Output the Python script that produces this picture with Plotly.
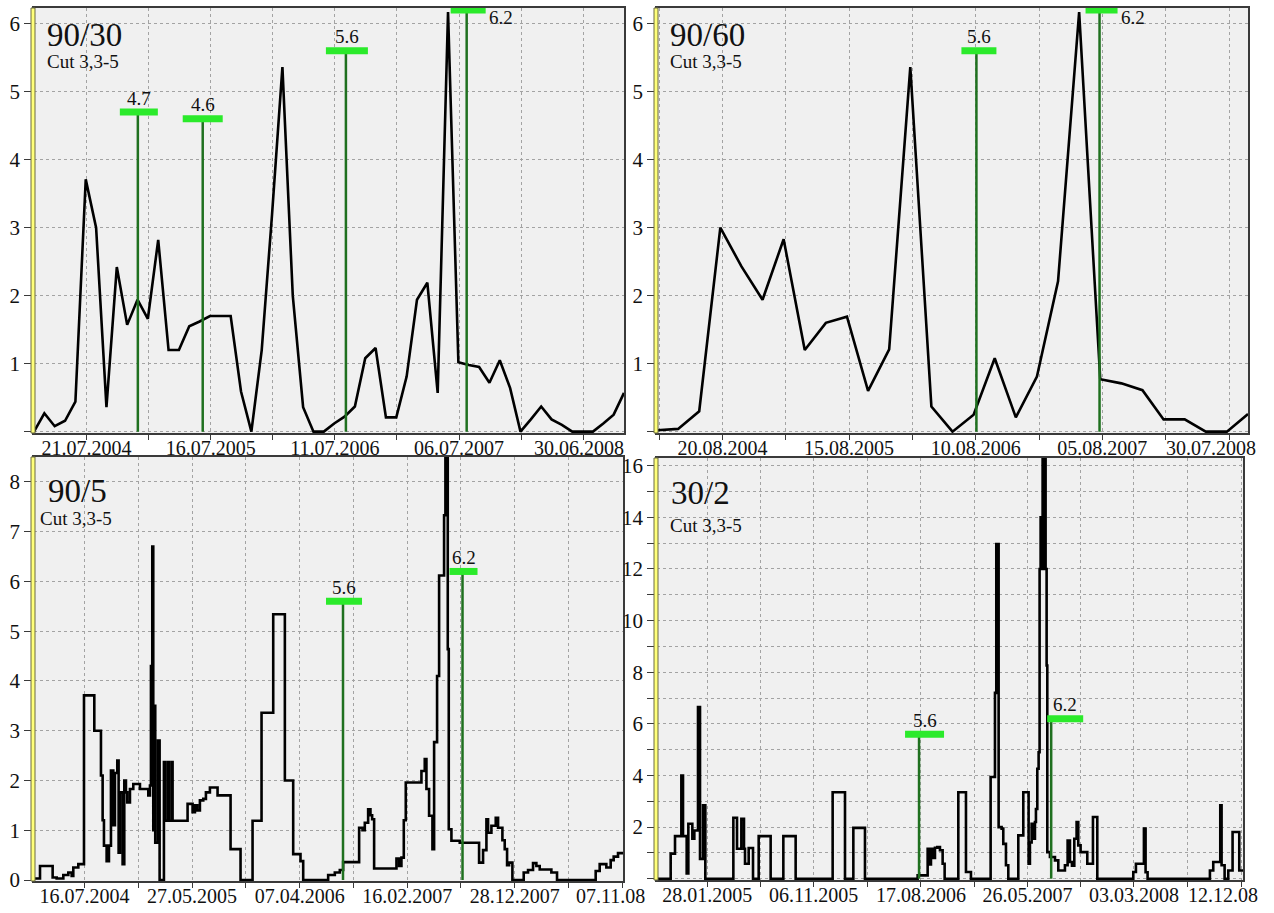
import pandas as pd
import plotly.graph_objects as go

W, H = 1274, 913

# ---------------- data ----------------
# Panel 1: 90/30 (one value every 30 days)
p1_start = "2004-02-20"
p1_step = "30D"
p1_vals = [0.0, 0.27, 0.08, 0.16, 0.44, 3.71, 3.0, 0.36, 2.42, 1.57, 1.94, 1.66, 2.82, 1.2, 1.2,
           1.55, 1.62, 1.7, 1.7, 1.7, 0.59, 0.0, 1.2, 3.2, 5.36, 2.0, 0.36, 0.0, 0.0, 0.12,
           0.22, 0.37, 1.08, 1.23, 0.21, 0.21, 0.81, 1.94, 2.19, 0.57, 6.17, 1.02, 0.98, 0.95,
           0.72, 1.05, 0.64, 0.0, 0.18, 0.37, 0.18, 0.1, 0.0, 0.0, 0.0, 0.12, 0.25, 0.57]

# Panel 2: 90/60 (one value every 60 days)
p2_start = "2004-02-16"
p2_step = "60D"
p2_vals = [0.02, 0.04, 0.3, 3.0, 2.43, 1.94, 2.83, 1.2, 1.6, 1.69, 0.6, 1.21, 5.36, 0.37, 0.0,
           0.25, 1.08, 0.21, 0.81, 2.21, 6.17, 0.77, 0.71, 0.61, 0.18, 0.18, 0.0, 0.0, 0.26]

# Panel 3: 90/5 (step series: day offset from start, value held until next change)
p3_start = "2004-02-19"
p3_days = [0, 17.6, 54.6, 66.4, 85.9, 100.5, 110.3, 115.1, 129.8, 146.4, 176.6, 196.1, 201, 204.9,
           212.7, 219.5, 225.4, 232.2, 237.1, 243.9, 247.8, 251.7, 259.5, 264.4, 269.3, 273.2, 281,
           290.8, 310.3, 334.7, 339.6, 342.5, 346.4, 349.3, 352.2, 355.1, 363, 367.9, 380.5, 384.4,
           392.3, 395.1, 403, 405.9, 449.8, 464.4, 471.3, 478.1, 485.9, 495.7, 503.5, 515.2, 537.6,
           575.7, 604.9, 640.1, 666.4, 700.6, 734.7, 759.1, 780.5, 788.4, 861.5, 881, 895.6, 905.4,
           952.2, 962, 968.8, 978.6, 985.4, 990.3, 996.1, 1061.5, 1069.3, 1076.1, 1083, 1088.8,
           1134.7, 1144.4, 1149.3, 1157.1, 1166.9, 1171.8, 1180.5, 1186.4, 1201, 1204.9, 1211.8,
           1214.7, 1222.5, 1246.9, 1303.5, 1315.2, 1325, 1329.8, 1339.6, 1352.3, 1359.1, 1371.8,
           1378.6, 1385.5, 1391.3, 1401.1, 1434.2, 1446.9, 1461.5, 1471.3, 1481.1, 1515.2, 1531.8,
           1645, 1656.7, 1676.2, 1688.9, 1697.7, 1710.4, 1725]
p3_vals = [0.03, 0.28, 0.05, 0.03, 0.1, 0.15, 0.08, 0.25, 0.32, 3.71, 3.0, 2.1, 1.2, 0.69,
           0.38, 0.69, 2.2, 1.1, 2.15, 2.4, 0.55, 1.76, 0.32, 2.0, 1.76, 1.56, 1.83,
           1.93, 1.83, 1.7, 1.9, 4.3, 6.7, 1.0, 3.5, 0.75, 2.8, 0.0, 2.37, 1.19,
           2.37, 1.19, 2.37, 1.19, 1.53, 1.36, 1.5, 1.4, 1.6, 1.63, 1.76, 1.86, 1.7,
           0.62, 0.0, 1.19, 3.36, 5.34, 2.0, 0.52, 0.38, 0.0, 0.1, 0.15, 0.2, 0.36,
           1.05, 1.0, 1.15, 1.42, 1.3, 1.22, 0.23, 0.43, 0.28, 0.45, 1.2, 1.96,
           2.19, 2.43, 1.83, 1.29, 0.62, 2.77, 4.1, 6.12, 7.33, 8.7, 4.64,
           1.02, 0.79, 0.75, 0.35, 0.6, 1.22, 0.95, 1.09, 1.25, 1.05, 0.8,
           0.62, 0.3, 0.35, 0.0, 0.15, 0.2, 0.34, 0.28, 0.21, 0.15, 0.0,
           0.18, 0.32, 0.25, 0.4, 0.47, 0.54, 0.54]

# Panel 4: 30/2 (step series)
p4_start = "2004-09-17"
p4_days = [0, 36.2, 47.7, 64.5, 68.9, 78.6, 83, 93.6, 98.9, 108.6, 113.9, 121.9, 128, 202.2, 211.9,
           223.4, 230.4, 233.1, 242.8, 254.3, 269.3, 301, 334.6, 367.2, 465.2, 497.9, 520, 550.8,
           690.3, 716.8, 721.2, 725.6, 731, 736.2, 742.4, 749.4, 756.5, 761.8, 798, 818.3, 831.5,
           883.6, 895.1, 898.6, 904.8, 912.7, 917.1, 924.2, 930.4, 956.9, 970.1, 984.2, 987.7,
           992.2, 996.6, 1001, 1003.6, 1007.2, 1010.7, 1013.3, 1016, 1018.6, 1021.3, 1023.9,
           1026.6, 1029.2, 1031.9, 1033.7, 1040.7, 1054, 1062.8, 1080.4, 1087.5, 1093.7, 1099,
           1105.2, 1111.3, 1115.7, 1121.9, 1139.6, 1154.6, 1166.1, 1261.4, 1268.4, 1289.6, 1294,
           1299.3, 1464.4, 1473.2, 1491.8, 1495.3, 1503.3, 1513, 1524.4, 1542.1, 1552]
p4_vals = [0.0, 0.97, 1.65, 4.0, 1.65, 0.2, 2.13, 1.55, 1.87, 6.65, 0.77, 2.84, 0.0, 2.36, 1.16,
           2.32, 1.16, 0.58, 1.19, 0.0, 1.65, 0.0, 1.65, 0.0, 3.35, 0.0, 1.97, 0.0,
           0.13, 1.16, 0.55, 1.16, 0.8, 1.2, 1.23, 1.1, 0.58, 0.0, 3.35, 0.26, 0.0,
           3.94, 7.2, 12.97, 2.0, 1.94, 1.35, 0.52, 0.0, 1.68, 3.35, 0.58, 1.4,
           2.13, 1.55, 2.2, 2.7, 4.26, 4.9, 12.0, 14.0, 12.0, 16.8, 12.0,
           16.8, 12.0, 8.26, 1.03, 0.84, 0.71, 0.32, 0.52, 1.48, 0.65, 0.5,
           1.55, 2.2, 1.29, 1.03, 0.58, 2.39, 0.0, 0.26, 0.58, 1.94, 0.25,
           0.0, 0.32, 0.65, 2.84, 0.52, 0.0, 0.32, 1.81, 0.32, 0.32]

# earthquakes (date, magnitude)
eq1_dates = ["2004-12-17", "2005-06-23", "2006-08-12", "2007-07-28"]
eq1_mags = [4.7, 4.6, 5.6, 6.2]
eq_dates = ["2006-08-12", "2007-07-28"]
eq_mags = [5.6, 6.2]

# tick labels
p1_ticks = ["2004-07-21", "2005-07-16", "2006-07-11", "2007-07-06", "2008-06-30"]
p1_ticktext = ["21.07.2004", "16.07.2005", "11.07.2006", "06.07.2007", "30.06.2008"]
p2_ticks = ["2004-08-20", "2005-08-15", "2006-08-10", "2007-08-05", "2008-07-30"]
p2_ticktext = ["20.08.2004", "15.08.2005", "10.08.2006", "05.08.2007", "30.07.2008"]
p3_ticks = ["2004-07-16", "2005-05-27", "2006-04-07", "2007-02-16", "2007-12-28", "2008-11-07"]
p3_ticktext = ["16.07.2004", "27.05.2005", "07.04.2006", "16.02.2007", "28.12.2007", "07.11.08"]
p4_ticks = ["2005-01-28", "2005-11-06", "2006-08-17", "2007-05-26", "2008-03-03", "2008-12-12"]
p4_ticktext = ["28.01.2005", "06.11.2005", "17.08.2006", "26.05.2007", "03.03.2008", "12.12.08"]

titles = ["90/30", "90/60", "90/5", "30/2"]
subtitle = "Cut 3,3-5"

# ---------------- style / layout ----------------
FONT = "'Times New Roman', 'Liberation Serif', 'DejaVu Serif', Times, serif"
PLOT_BG = "#f0f0f0"
GRID = "#a3a3a3"
AXIS = "#3a3a3a"
DARK_GREEN = "#1f701f"
BRIGHT_GREEN = "#2bea2b"

# pixel boxes (left, right, top, bottom)
boxes = [(34, 624, 8, 433), (657, 1248, 8, 433), (34, 623, 457, 881), (657, 1243, 458, 880)]
yranges = [[-0.02, 6.23], [-0.02, 6.23], [-0.02, 8.5], [-0.05, 16.3]]
# title offsets (xshift, yshift) and subtitle offsets
title_off = [(11, -7), (11, -7), (12, -14), (12, -15)]
sub_off = [(11, -41), (11, -41), (4, -49), (11, -55)]
# bar pixel extents relative to the event line
bars = [[(-18, 20), (-20, 20), (-20, 22), (-16, 19)],
        [(-15, 20), (-14, 18)],
        [(-17, 19), (-13, 15)],
        [(-14, 25), (-4, 32)]]
# the last date label of each panel is pulled left to stay near the frame (pixels)
last_label_shift = [-4, -18, -12, -18]

def series_xy(i):
    if i == 0:
        x = pd.date_range(p1_start, periods=len(p1_vals), freq=p1_step)
        return x, p1_vals
    if i == 1:
        x = pd.date_range(p2_start, periods=len(p2_vals), freq=p2_step)
        return x, p2_vals
    if i == 2:
        x = pd.Timestamp(p3_start) + pd.to_timedelta(p3_days, unit="D")
        return x, p3_vals
    x = pd.Timestamp(p4_start) + pd.to_timedelta(p4_days, unit="D")
    return x, p4_vals

def grid_ticks(ticks, texts, lo, hi):
    t = pd.to_datetime(ticks)
    vals, txt = [], []
    first_half = t[0] - (t[1] - t[0]) / 2
    if first_half >= lo:
        vals.append(first_half); txt.append("")
    for k in range(len(t)):
        # last label is drawn separately as an annotation
        vals.append(t[k]); txt.append(texts[k] if k < len(t) - 1 else "")
        if k + 1 < len(t):
            vals.append(t[k] + (t[k + 1] - t[k]) / 2); txt.append("")
    last_half = t[-1] + (t[-1] - t[-2]) / 2
    if last_half <= hi:
        vals.append(last_half); txt.append("")
    return vals, txt

tick_sets = [(p1_ticks, p1_ticktext), (p2_ticks, p2_ticktext), (p3_ticks, p3_ticktext), (p4_ticks, p4_ticktext)]
eq_sets = [(eq1_dates, eq1_mags), (eq_dates, eq_mags), (eq_dates, eq_mags), (eq_dates, eq_mags)]

fig = go.Figure()
layout = dict(width=W, height=H, margin=dict(l=0, r=0, t=0, b=0), autosize=False,
              paper_bgcolor="#ffffff", plot_bgcolor=PLOT_BG, showlegend=False,
              font=dict(family=FONT, color="#111111"))
shapes, annotations = [], []

for i in range(4):
    sfx = "" if i == 0 else str(i + 1)
    xa, ya = "x" + sfx, "y" + sfx
    L, R, T, B = boxes[i]
    x, y = series_xy(i)
    fig.add_trace(go.Scatter(x=x, y=y, mode="lines", xaxis=xa, yaxis=ya,
                             line=dict(color="#000000", width=2.6,
                                       shape="linear" if i < 2 else "hv"),
                             hoverinfo="skip"))
    lo, hi = x[0], x[-1]
    tv, tt = grid_ticks(*tick_sets[i], lo, hi)
    layout["xaxis" + sfx] = dict(
        domain=[L / W, R / W], anchor=ya, range=[lo, hi], type="date",
        tickmode="array", tickvals=tv, ticktext=tt, ticks="outside", ticklen=5,
        ticklabelstandoff=-9, ticklabeloverflow="allow",
        tickcolor=AXIS, tickfont=dict(size=20, family=FONT, color="#111"),
        showgrid=True, gridcolor=GRID, griddash="3px,3px", gridwidth=1,
        showline=True, linecolor=AXIS, linewidth=1.5, mirror=True,
        zeroline=False, automargin=False, fixedrange=True)
    # last date label
    annotations.append(dict(xref=xa, yref=ya + " domain", x=tick_sets[i][0][-1], y=0,
                            text=tick_sets[i][1][-1], showarrow=False,
                            xanchor="center", yanchor="top",
                            xshift=last_label_shift[i], yshift=-2,
                            font=dict(size=20, family=FONT, color="#111")))
    if i < 2:
        yv = list(range(0, 7)); yt = [""] + [str(v) for v in range(1, 7)]
    elif i == 2:
        yv = list(range(0, 9)); yt = [str(v) for v in yv]
    else:
        yv = list(range(0, 17)); yt = [str(v) if (v % 2 == 0 and v > 0) else "" for v in yv]
    layout["yaxis" + sfx] = dict(
        domain=[1 - B / H, 1 - T / H], anchor=xa, range=yranges[i],
        tickmode="array", tickvals=yv, ticktext=yt, ticks="outside", ticklen=8,
        ticklabeloverflow="allow",
        tickcolor=AXIS, tickfont=dict(size=21, family=FONT, color="#111"),
        showgrid=True, gridcolor=GRID, griddash="3px,3px", gridwidth=1,
        showline=True, linecolor=AXIS, linewidth=1.5, mirror=True,
        zeroline=False, automargin=False, fixedrange=True)

    # yellow stripe on the left axis
    shapes.append(dict(type="rect", xref="paper", yref="paper",
                       x0=(L - 3) / W, x1=(L + 1) / W, y0=1 - B / H, y1=1 - T / H,
                       fillcolor="#ffff7a", line=dict(color="#6a6a40", width=1), layer="above"))

    # earthquake markers
    dates, mags = eq_sets[i]
    for k, (d, m) in enumerate(zip(dates, mags)):
        shapes.append(dict(type="line", xref=xa, yref=ya, x0=d, x1=d, y0=0, y1=m,
                           line=dict(color=DARK_GREEN, width=2.5), layer="above"))
        b0, b1 = bars[i][k]
        shapes.append(dict(type="line", xref=xa, yref=ya, xsizemode="pixel", xanchor=d,
                           x0=b0, x1=b1, y0=m, y1=m,
                           line=dict(color=BRIGHT_GREEN, width=7), layer="above"))
        top_label = (i < 2 and m >= 6.0)
        if top_label:
            annotations.append(dict(xref=xa, yref=ya, x=d, y=m, text=f"{m:.1f}", showarrow=False,
                                    xanchor="left", yanchor="middle", xshift=b1 + 1, yshift=-7,
                                    font=dict(size=19, family=FONT, color="#111")))
        else:
            annotations.append(dict(xref=xa, yref=ya, x=d, y=m, text=f"{m:.1f}", showarrow=False,
                                    xanchor="center", yanchor="middle", xshift=(b0 + b1) / 2,
                                    yshift=14, font=dict(size=19, family=FONT, color="#111")))

    # titles
    annotations.append(dict(xref=xa + " domain", yref=ya + " domain", x=0, y=1, text=titles[i],
                            showarrow=False, xanchor="left", yanchor="top",
                            xshift=title_off[i][0], yshift=title_off[i][1],
                            font=dict(size=33, family=FONT, color="#111")))
    annotations.append(dict(xref=xa + " domain", yref=ya + " domain", x=0, y=1, text=subtitle,
                            showarrow=False, xanchor="left", yanchor="top",
                            xshift=sub_off[i][0], yshift=sub_off[i][1],
                            font=dict(size=19, family=FONT, color="#111")))

layout["shapes"] = shapes
layout["annotations"] = annotations
fig.update_layout(**layout)
fig.write_html("out.html")
